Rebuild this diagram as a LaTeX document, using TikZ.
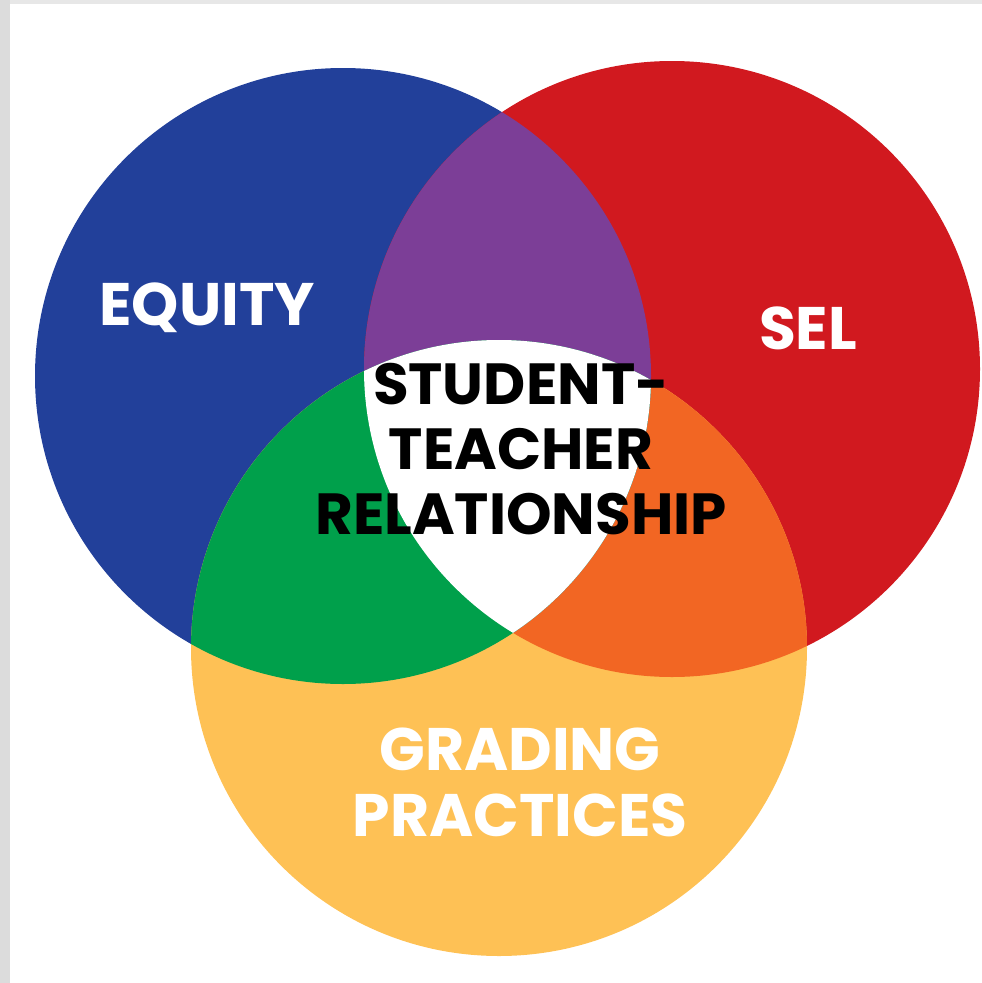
\documentclass[tikz,border=0pt]{standalone}
\usepackage{fontspec}
\setmainfont{Poppins}
\usepackage{tikz}

\definecolor{eqblue}{HTML}{22409A}
\definecolor{selred}{HTML}{D1191F}
\definecolor{grdyellow}{HTML}{FEC155}
\definecolor{mixpurple}{HTML}{7C3E97}
\definecolor{mixgreen}{HTML}{00A04B}
\definecolor{mixorange}{HTML}{F26623}
\definecolor{framegray}{HTML}{DCDCDC}

\begin{document}
\begin{tikzpicture}[x=1pt,y=-1pt]
\tikzstyle{every node}=[font=\bfseries\fontsize{60}{66}\selectfont,inner sep=0pt,align=center]
\tikzstyle{circtext}=[text=white]
\useasboundingbox (0,0) rectangle (982,983);
\coordinate (E) at (343,376);
\coordinate (S) at (672,369);
\coordinate (G) at (499,648);
\fill[framegray] (0,0) rectangle (10,983);
\fill[framegray!70] (10,0) rectangle (982,4);
% the three circles
\fill[eqblue] (E) circle (308pt);
\fill[selred] (S) circle (308pt);
\fill[grdyellow] (G) circle (308pt);
\begin{scope}
\clip (S) circle (308pt);
\fill[mixorange] (G) circle (308pt);
\end{scope}
\begin{scope}
\clip (E) circle (308pt);
\fill[mixpurple] (S) circle (308pt);
\fill[mixgreen] (G) circle (308pt);
\clip (S) circle (308pt);
\fill[white] (G) circle (308pt);
\end{scope}
% labels
\node[circtext] (equity) at (207,308) {EQUITY};
\node[circtext] (sel) at (808,328) {SEL};
\node[circtext] (grading) at (520,782) {GRADING\\PRACTICES};
\node[font=\bfseries\fontsize{58}{65}\selectfont] (stl) at (521,449) {STUDENT-\\TEACHER\\RELATIONSHIP};
\end{tikzpicture}
\end{document}
